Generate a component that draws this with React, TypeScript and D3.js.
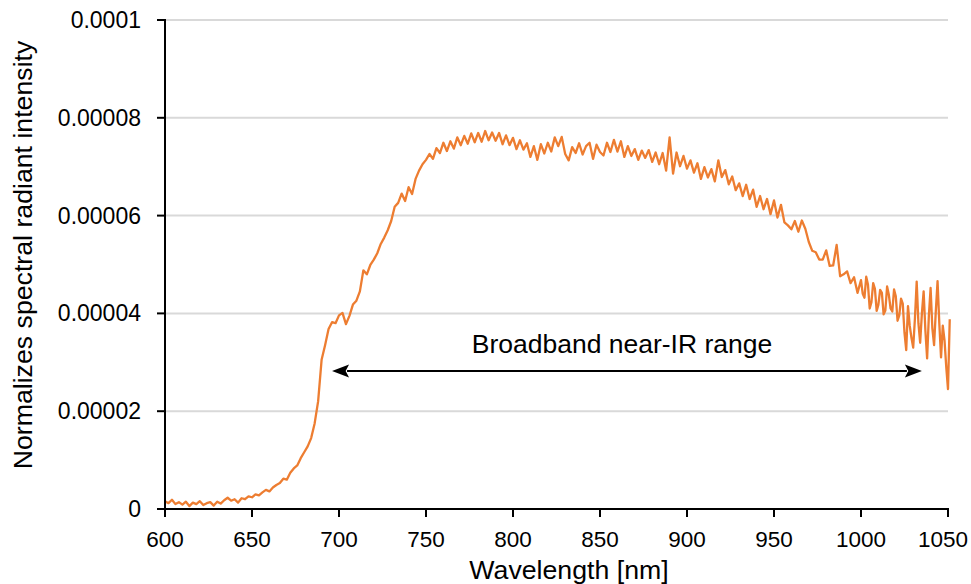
import React from "react";
import * as d3 from "d3";

// Wavelength samples (nm) (2 nm steps, 1 nm in the noisy tail)
const wavelengths: number[] = [
  600, 602, 604, 606, 608, 610, 612, 614, 616, 618, 620, 622, 624, 626, 628, 630, 632, 634, 636, 638,
  640, 642, 644, 646, 648, 650, 652, 654, 656, 658, 660, 662, 664, 666, 668, 670, 672, 674, 676, 678,
  680, 682, 684, 686, 688, 690, 692, 694, 696, 698, 700, 702, 704, 706, 708, 710, 712, 714, 716, 718,
  720, 722, 724, 726, 728, 730, 732, 734, 736, 738, 740, 742, 744, 746, 748, 750, 752, 754, 756, 758,
  760, 762, 764, 766, 768, 770, 772, 774, 776, 778, 780, 782, 784, 786, 788, 790, 792, 794, 796, 798,
  800, 802, 804, 806, 808, 810, 812, 814, 816, 818, 820, 822, 824, 826, 828, 830, 832, 834, 836, 838,
  840, 842, 844, 846, 848, 850, 852, 854, 856, 858, 860, 862, 864, 866, 868, 870, 872, 874, 876, 878,
  880, 882, 884, 886, 888, 890, 892, 894, 896, 898, 900, 902, 904, 906, 908, 910, 912, 914, 916, 918,
  920, 922, 924, 926, 928, 930, 932, 934, 936, 938, 940, 942, 944, 946, 948, 950, 952, 954, 956, 958,
  960, 962, 964, 966, 968, 970, 972, 974, 976, 978, 980, 982, 984, 986, 988, 990, 992, 994, 996, 998,
  1000, 1001, 1002, 1003, 1004, 1005, 1006, 1007, 1008, 1009, 1010, 1011, 1012, 1013, 1014, 1015, 1016, 1017, 1018, 1019,
  1020, 1021, 1022, 1023, 1024, 1025, 1026, 1027, 1028, 1029, 1030, 1031, 1032, 1033, 1034, 1035, 1036, 1037, 1038, 1039,
  1040, 1041, 1042, 1043, 1044, 1045, 1046, 1047, 1048, 1049, 1050, 1051,
];

// Normalized spectral radiant intensity, in units of 1e-6
const intensityMicro: number[] = [
  1.6, 1.2, 1.9, 1.0, 1.4, 0.9, 1.5, 0.6, 1.3, 1.0, 1.6, 0.8, 1.2, 1.4, 0.7, 1.5, 1.1, 1.8, 2.3, 1.7,
  2.0, 1.3, 2.2, 2.0, 2.6, 2.4, 3.0, 2.8, 3.4, 3.9, 3.6, 4.4, 4.9, 5.3, 6.2, 6.0, 7.4, 8.3, 8.9, 10.4,
  11.6, 12.8, 14.5, 17.5, 22.0, 30.5, 33.5, 36.8, 38.2, 38.0, 39.6, 40.1, 37.8, 39.5, 41.8, 42.6, 44.5, 48.8, 48.0, 49.9,
  51.0, 52.3, 54.2, 55.5, 57.0, 58.9, 61.8, 62.6, 64.5, 63.0, 65.8, 64.4, 67.5, 69.2, 70.5, 71.4, 72.6, 71.6, 73.8, 72.8,
  74.9, 73.2, 75.2, 73.7, 76.0, 74.4, 76.3, 74.7, 76.8, 75.0, 76.9, 75.1, 77.3, 75.4, 77.0, 75.3, 76.9, 74.6, 76.4, 74.4,
  75.9, 73.6, 75.4, 73.5, 74.8, 72.0, 74.2, 71.4, 74.6, 72.7, 74.9, 73.1, 76.0, 74.2, 76.1, 72.6, 71.3, 74.0, 72.8, 74.8,
  72.5, 74.2, 74.9, 71.6, 74.5, 73.0, 72.3, 74.9, 73.0, 75.5, 73.1, 75.2, 72.0, 74.2, 72.2, 73.6, 71.4, 73.3, 71.8, 73.4,
  71.0, 72.9, 70.5, 72.8, 69.2, 76.0, 68.6, 72.9, 70.1, 72.2, 69.6, 71.3, 68.8, 70.7, 67.5, 69.9, 67.8, 69.5, 67.0, 71.3,
  67.9, 69.3, 66.4, 68.0, 65.2, 66.6, 64.0, 66.3, 63.4, 65.3, 61.8, 64.0, 61.3, 63.4, 60.3, 63.1, 59.6, 62.2, 58.6, 58.0,
  57.2, 58.9, 56.7, 59.0, 57.3, 54.6, 52.8, 52.5, 51.0, 51.0, 52.9, 49.7, 49.8, 54.0, 47.6, 48.0, 48.6, 46.2, 47.4, 44.2,
  46.8, 44.0, 43.2, 47.5, 45.9, 41.0, 42.3, 46.2, 45.0, 40.5, 41.8, 44.8, 44.2, 39.8, 40.6, 45.5, 43.8, 41.0, 40.4, 44.9,
  43.5, 38.5, 39.6, 43.0, 42.0, 36.0, 32.5, 41.5, 37.5, 35.0, 33.0, 39.0, 46.5, 38.0, 34.0, 40.0, 44.5, 36.5, 30.8, 39.5,
  45.2, 37.0, 33.5, 40.5, 46.6, 38.0, 31.0, 37.5, 34.5, 29.0, 24.5, 38.8,
];

const intensity: number[] = intensityMicro.map((v) => v * 1e-6);

const xTicks: number[] = [600, 650, 700, 750, 800, 850, 900, 950, 1000, 1050];
const yTicks: number[] = [0, 0.00002, 0.00004, 0.00006, 0.00008, 0.0001];
const yTickLabels: string[] = ["0", "0.00002", "0.00004", "0.00006", "0.00008", "0.0001"];

const annotationText = "Broadband near-IR range";
const annotationRange: number[] = [696, 1035];
const annotationLevel = 0.0000282;

const W = 971;
const H = 584;
const left = 165;
const right = 948;
const top = 20;
const bottom = 509;

export default function App() {
  const x = d3.scaleLinear().domain([600, 1050]).range([left, right]);
  const y = d3.scaleLinear().domain([0, 0.0001]).range([bottom, top]);

  const pts: [number, number][] = wavelengths.map((w, i) => [w, intensity[i]]);
  const line = d3
    .line<[number, number]>()
    .x((d) => x(d[0]))
    .y((d) => y(d[1]));

  const font = "'Liberation Sans', Arial, Helvetica, sans-serif";
  const ay = y(annotationLevel);
  const ax1 = x(annotationRange[0]);
  const ax2 = x(annotationRange[1]);
  const ah = 17;
  const aw = 6.5;

  return (
    <div style={{ position: "absolute", left: 0, top: 0 }}>
      <svg width={W} height={H} style={{ display: "block", background: "#fff" }}>
        {yTicks.slice(1).map((t) => (
          <line key={"g" + t} x1={left} x2={right} y1={y(t)} y2={y(t)} stroke="#d9d9d9" strokeWidth={2} />
        ))}
        <path d={line(pts) || ""} fill="none" stroke="#ED7D31" strokeWidth={2.3} strokeLinejoin="round" />
        {/* axes */}
        <line x1={left} x2={left} y1={top - 1} y2={bottom + 1} stroke="#000" strokeWidth={2} />
        <line x1={left - 1} x2={right + 1} y1={bottom} y2={bottom} stroke="#000" strokeWidth={2} />
        {yTicks.map((t, i) => (
          <g key={"y" + t}>
            <line x1={left - 8} x2={left} y1={y(t)} y2={y(t)} stroke="#000" strokeWidth={2} />
            <text
              x={141}
              y={y(t)}
              dy="0.35em"
              textAnchor="end"
              fontFamily={font}
              fontSize={23}
              fill="#000"
            >
              {yTickLabels[i]}
            </text>
          </g>
        ))}
        {xTicks.map((t, i) => {
          const last = i === xTicks.length - 1;
          return (
            <g key={"x" + t}>
              <line x1={x(t)} x2={x(t)} y1={bottom} y2={bottom + 8} stroke="#000" strokeWidth={2} />
              <text
                x={last ? W - 3 : x(t)}
                y={547}
                textAnchor={last ? "end" : "middle"}
                fontFamily={font}
                fontSize={22.5}
                fill="#000"
              >
                {t}
              </text>
            </g>
          );
        })}
        <text x={569} y={579} textAnchor="middle" fontFamily={font} fontSize={26.7} fill="#000">
          Wavelength [nm]
        </text>
        <text
          transform={`translate(32, 255) rotate(-90)`}
          textAnchor="middle"
          fontFamily={font}
          fontSize={26.7}
          fill="#000"
        >
          Normalizes spectral radiant intensity
        </text>
        {/* annotation */}
        <text x={622} y={353} textAnchor="middle" fontFamily={font} fontSize={26.5} fill="#000">
          {annotationText}
        </text>
        <line x1={ax1 + ah - 2} x2={ax2 - ah + 2} y1={ay} y2={ay} stroke="#000" strokeWidth={2} />
        <path d={`M${ax1},${ay} L${ax1 + ah},${ay - aw} L${ax1 + ah * 0.8},${ay} L${ax1 + ah},${ay + aw} Z`} fill="#000" />
        <path d={`M${ax2},${ay} L${ax2 - ah},${ay - aw} L${ax2 - ah * 0.8},${ay} L${ax2 - ah},${ay + aw} Z`} fill="#000" />
      </svg>
    </div>
  );
}
